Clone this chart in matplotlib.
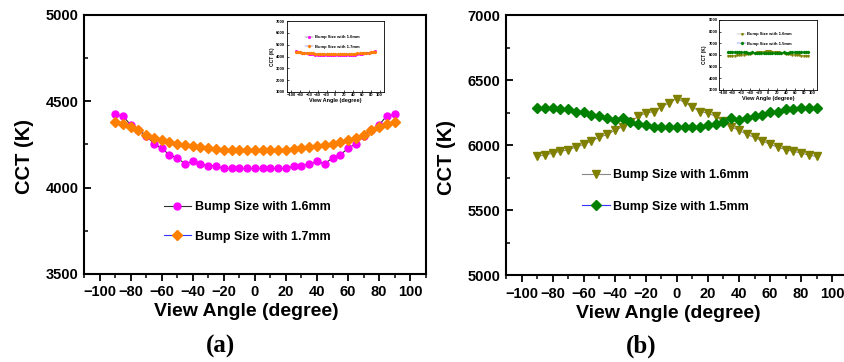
import numpy as np
import matplotlib
matplotlib.use("Agg")
import matplotlib.pyplot as plt
from matplotlib.ticker import MultipleLocator

plt.rcParams["font.family"] = ["Liberation Sans", "DejaVu Sans"]
plt.rcParams["font.weight"] = "bold"

angles = list(range(-90, 95, 5))

# panel (a)
cct_a_16 = [4424, 4416, 4364, 4335, 4300, 4255, 4228, 4190, 4173, 4138, 4152, 4136,
            4128, 4124, 4111, 4111, 4111, 4111, 4111, 4111, 4111, 4111, 4111, 4124,
            4128, 4136, 4152, 4138, 4173, 4190, 4228, 4255, 4300, 4335, 4364, 4416, 4424]
cct_a_17 = [4383, 4368, 4352, 4333, 4304, 4290, 4274, 4266, 4255, 4245, 4239, 4235,
            4229, 4225, 4220, 4216, 4216, 4216, 4216, 4216, 4216, 4216, 4220, 4225,
            4229, 4235, 4239, 4245, 4255, 4266, 4274, 4290, 4304, 4333, 4352, 4368, 4383]

# panel (b)
cct_b_16 = [5915, 5925, 5941, 5954, 5966, 5987, 6007, 6035, 6061, 6084, 6115, 6143,
            6180, 6222, 6248, 6260, 6294, 6329, 6360, 6331, 6294, 6260, 6248, 6222,
            6185, 6143, 6115, 6084, 6061, 6035, 6007, 5987, 5966, 5954, 5941, 5925, 5915]
cct_b_15 = [6286, 6291, 6291, 6283, 6283, 6253, 6253, 6235, 6222, 6209, 6194, 6214,
            6176, 6166, 6156, 6143, 6143, 6143, 6141, 6143, 6143, 6143, 6156, 6166,
            6176, 6214, 6194, 6209, 6222, 6235, 6253, 6253, 6283, 6283, 6291, 6291, 6286]

labels_a = ["Bump Size with 1.6mm", "Bump Size with 1.7mm"]
labels_b = ["Bump Size with 1.6mm", "Bump Size with 1.5mm"]

fig = plt.figure(figsize=(8.44, 3.62), dpi=100)


def style_main(ax, ylim, ystep, xlab_x, ylab_y):
    ax.set_xlim(-110, 110)
    ax.set_ylim(*ylim)
    ax.xaxis.set_major_locator(MultipleLocator(20))
    ax.xaxis.set_minor_locator(MultipleLocator(10))
    ax.yaxis.set_major_locator(MultipleLocator(ystep))
    ax.yaxis.set_minor_locator(MultipleLocator(ystep / 2))
    for s in ax.spines.values():
        s.set_linewidth(1.5)
    ax.tick_params(axis="x", which="major", direction="out", length=5, width=1.3,
                   labelsize=10.5, pad=3)
    ax.tick_params(axis="x", which="minor", direction="out", length=3, width=1.1)
    ax.tick_params(axis="y", which="major", direction="in", length=5, width=1.3,
                   labelsize=10.5, pad=4)
    ax.tick_params(axis="y", which="minor", direction="in", length=3, width=1.1)
    for t in ax.get_xticklabels() + ax.get_yticklabels():
        t.set_fontweight("bold")
    ax.set_xlabel("View Angle (degree)", fontsize=14, fontweight="bold")
    ax.set_ylabel("CCT (K)", fontsize=14.5, fontweight="bold")
    ax.xaxis.set_label_coords(xlab_x, -0.112)
    ax.yaxis.set_label_coords(-0.145, ylab_y)


def style_inset(ax, ylim):
    ax.set_xlim(-110, 110)
    ax.set_ylim(*ylim)
    ax.xaxis.set_major_locator(MultipleLocator(20))
    ax.yaxis.set_major_locator(MultipleLocator(1000))
    for s in ax.spines.values():
        s.set_linewidth(0.6)
    ax.tick_params(direction="in", length=1.5, width=0.5, labelsize=3, pad=1)
    ax.set_xlabel("View Angle (degree)", fontsize=4, fontweight="bold", labelpad=0.5)
    ax.set_ylabel("CCT (K)", fontsize=3.5, fontweight="bold", labelpad=1)


# ---- (a)
ax_a = fig.add_axes([0.0995, 0.2431, 0.4049, 0.7155])
ax_a.plot(angles, cct_a_16, "-", color="#333333", lw=0.8, marker="o", ms=5,
          mfc="#ff00ff", mec="#ff00ff", label=labels_a[0])
ax_a.plot(angles, cct_a_17, "-", color="#3333ff", lw=0.8, marker="D", ms=5,
          mfc="#ff8000", mec="#ff8000", label=labels_a[1])
style_main(ax_a, (3500, 5000), 500, 0.475, 0.455)
ax_a.legend(loc="center left", bbox_to_anchor=(0.2, 0.201), frameon=False,
            handlelength=2.2, labelspacing=1.4, handletextpad=0.3,
            prop={"weight": "bold", "size": 9})
fig.text(0.261, 0.044, "(a)", fontsize=18, fontweight="bold",
         family=["Liberation Serif", "DejaVu Serif"], ha="center", va="center")

ins_a = fig.add_axes([0.3397, 0.7459, 0.1153, 0.196])
ins_a.plot(angles, cct_a_16, "-", color="#333333", lw=0.3, marker="o", ms=1.2,
           mfc="#ff00ff", mec="#ff00ff", label=labels_a[0])
ins_a.plot(angles, cct_a_17, "-", color="#3333ff", lw=0.3, marker="D", ms=1.2,
           mfc="#ff8000", mec="#ff8000", label=labels_a[1])
style_inset(ins_a, (1000, 7000))
ins_a.legend(loc="upper left", bbox_to_anchor=(0.15, 0.85), frameon=False,
             prop={"weight": "bold", "size": 3}, handlelength=2, labelspacing=1.3,
             handletextpad=0.3)

# ---- (b)
ax_b = fig.add_axes([0.5995, 0.2390, 0.405, 0.7188])
ax_b.plot(angles, cct_b_16, "-", color="#888888", lw=0.8, marker="v", ms=5.5,
          mfc="#808000", mec="#808000", label=labels_b[0])
ax_b.plot(angles, cct_b_15, "-", color="#3333ff", lw=0.8, marker="D", ms=5,
          mfc="#008000", mec="#008000", label=labels_b[1])
style_main(ax_b, (5000, 7000), 500, 0.475, 0.455)
ax_b.legend(loc="center left", bbox_to_anchor=(0.19, 0.324), frameon=False,
            handlelength=2.2, labelspacing=1.55, handletextpad=0.3,
            prop={"weight": "bold", "size": 9})
fig.text(0.760, 0.044, "(b)", fontsize=18, fontweight="bold",
         family=["Liberation Serif", "DejaVu Serif"], ha="center", va="center")

ins_b = fig.add_axes([0.8519, 0.7514, 0.1161, 0.1934])
ins_b.plot(angles, cct_b_16, "-", color="#888888", lw=0.3, marker="v", ms=1.2,
           mfc="#808000", mec="#808000", label=labels_b[0])
ins_b.plot(angles, cct_b_15, "-", color="#3333ff", lw=0.3, marker="D", ms=1.2,
           mfc="#008000", mec="#008000", label=labels_b[1])
style_inset(ins_b, (3000, 9000))
ins_b.legend(loc="upper left", bbox_to_anchor=(0.15, 0.88), frameon=False,
             prop={"weight": "bold", "size": 3}, handlelength=2, labelspacing=1.3,
             handletextpad=0.3)

fig.savefig("out.png", dpi=100)
